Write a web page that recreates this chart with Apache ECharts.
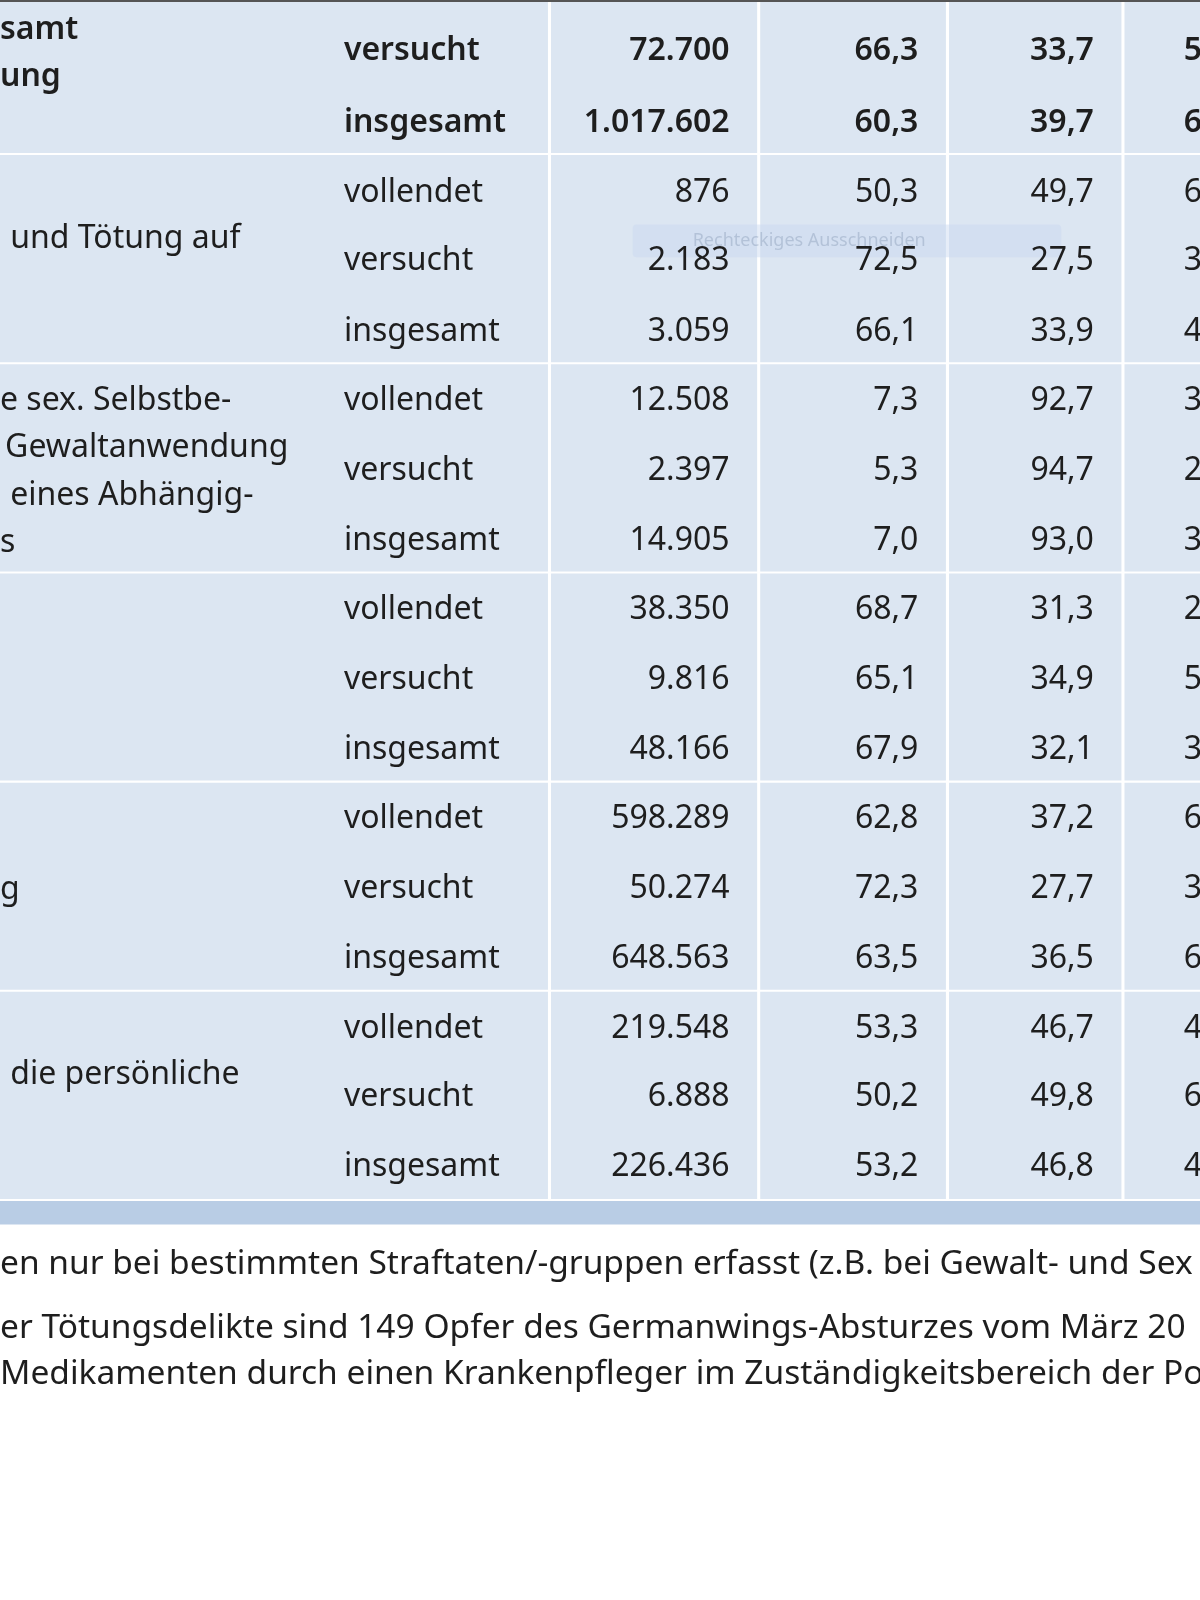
<!DOCTYPE html>
<html>
<head>
<meta charset="utf-8">
<script src="https://cdn.jsdelivr.net/npm/echarts@6/dist/echarts.min.js"></script>
<style>html,body{margin:0;padding:0;background:#fff}#main{width:1200px;height:1600px}</style>
</head>
<body>
<div id="main"></div>
<script>
// Zeilen (Mitte, in Bildkoordinaten)
var rowY = [50, 120, 189, 256, 325, 393, 461, 530, 598, 666, 735, 803, 871, 940, 1008, 1075, 1144];
var boldRows = [0, 1];
var artArr = ['versucht', 'insgesamt', 'vollendet', 'versucht', 'insgesamt', 'vollendet', 'versucht', 'insgesamt',
  'vollendet', 'versucht', 'insgesamt', 'vollendet', 'versucht', 'insgesamt', 'vollendet', 'versucht', 'insgesamt'];
var anzahlArr = ['72.700', '1.017.602', '876', '2.183', '3.059', '12.508', '2.397', '14.905',
  '38.350', '9.816', '48.166', '598.289', '50.274', '648.563', '219.548', '6.888', '226.436'];
var maennlArr = ['66,3', '60,3', '50,3', '72,5', '66,1', '7,3', '5,3', '7,0',
  '68,7', '65,1', '67,9', '62,8', '72,3', '63,5', '53,3', '50,2', '53,2'];
var weiblArr = ['33,7', '39,7', '49,7', '27,5', '33,9', '92,7', '94,7', '93,0',
  '31,3', '34,9', '32,1', '37,2', '27,7', '36,5', '46,7', '49,8', '46,8'];
var restArr = ['5', '6', '6', '3', '4', '3', '2', '3', '2', '5', '3', '6', '3', '6', '4', '6', '4'];
// Beschriftungen der linken Spalte (abgeschnitten)
var labelArr = [
  ['samt', 0, 29, true], ['ung', 0, 75, true],
  ['und Tötung auf', 10, 234, false],
  ['e sex. Selbstbe-', 0, 393, false], ['Gewaltanwendung', 5, 439, false],
  ['eines Abhängig-', 10, 486, false], ['s', 0, 532, false],
  ['g', 0, 872, false],
  ['die persönliche', 10, 1053, false]
];
var notesArr = [
  ['en nur bei bestimmten Straftaten/-gruppen erfasst (z.B. bei Gewalt- und Sex', 1239],
  ['er Tötungsdelikte sind 149 Opfer des Germanwings-Absturzes vom März 20', 1302],
  ['Medikamenten durch einen Krankenpfleger im Zuständigkeitsbereich der Po', 1347]
];
var blocks = [[0, 150], [152, 355], [357, 560], [562, 765], [767, 970], [972, 1175]];
var colEdges = [-10, 538, 743, 928, 1100, 1200];

var FONT = '"Noto Sans", sans-serif';
var cells = [];
blocks.forEach(function (b, bi) {
  for (var c = 0; c < colEdges.length - 1; c++) cells.push([colEdges[c] + (c ? 2 : 0), b[0], colEdges[c + 1] - 1, b[1]]);
});
var texts = [];
rowY.forEach(function (y, i) {
  var bold = boldRows.indexOf(i) >= 0;
  texts.push([337, y, artArr[i], bold, 'left', 32]);
  texts.push([715, y, anzahlArr[i], bold, 'right', 32]);
  texts.push([900, y, maennlArr[i], bold, 'right', 32]);
  texts.push([1072, y, weiblArr[i], bold, 'right', 32]);
  texts.push([1160, y, restArr[i], bold, 'left', 32]);
});
labelArr.forEach(function (l) { texts.push([l[1], l[2], l[0], l[3], 'left', 32]); });
notesArr.forEach(function (n) { texts.push([0, n[1], n[0], false, 'left', 33.5]); });

function rectItem(fill, r) {
  return function (params, api) {
    var p0 = api.coord([api.value(0), api.value(1)]);
    var p1 = api.coord([api.value(2), api.value(3)]);
    return { type: 'rect', shape: { x: p0[0], y: p0[1], width: p1[0] - p0[0], height: p1[1] - p0[1], r: r || 0 }, style: { fill: fill } };
  };
}

var myChart = echarts.init(document.getElementById('main'));
var option = {
  animation: false,
  grid: { left: 0, right: 0, top: 0, bottom: 0 },
  xAxis: { type: 'value', min: 0, max: 1176, show: false },
  yAxis: { type: 'value', min: 0, max: 1568, inverse: true, show: false },
  series: [
    { type: 'custom', data: cells, renderItem: rectItem('#dce6f2') },
    { type: 'custom', data: [[-10, 1177, 1200, 1200]], renderItem: rectItem('#b9cde5') },
    { type: 'custom', data: [[0, 0, 1200, 2]], renderItem: rectItem('#555') },
    {
      type: 'custom',
      data: [[620, 220, 1040, 252]],
      renderItem: function (params, api) {
        var p0 = api.coord([api.value(0), api.value(1)]);
        var p1 = api.coord([api.value(2), api.value(3)]);
        return { type: 'group', children: [
          { type: 'rect', shape: { x: p0[0], y: p0[1], width: p1[0] - p0[0], height: p1[1] - p0[1], r: 4 }, style: { fill: 'rgba(200,215,240,0.45)' } },
          { type: 'text', style: { x: p0[0] + 60, y: (p0[1] + p1[1]) / 2, text: 'Rechteckiges Ausschneiden', fill: 'rgba(120,140,170,0.35)', font: '18px ' + FONT, verticalAlign: 'middle' } }
        ] };
      }
    },
    {
      type: 'custom',
      data: texts,
      renderItem: function (params, api) {
        var d = texts[params.dataIndex];
        var p = api.coord([d[0], d[1]]);
        return { type: 'text', style: {
          x: p[0], y: p[1], text: d[2], fill: '#1e1e1e',
          font: (d[3] ? '600 ' : '') + d[5] + 'px ' + FONT,
          align: d[4], verticalAlign: 'middle'
        } };
      }
    }
  ]
};
myChart.setOption(option);
</script>
</body>
</html>
